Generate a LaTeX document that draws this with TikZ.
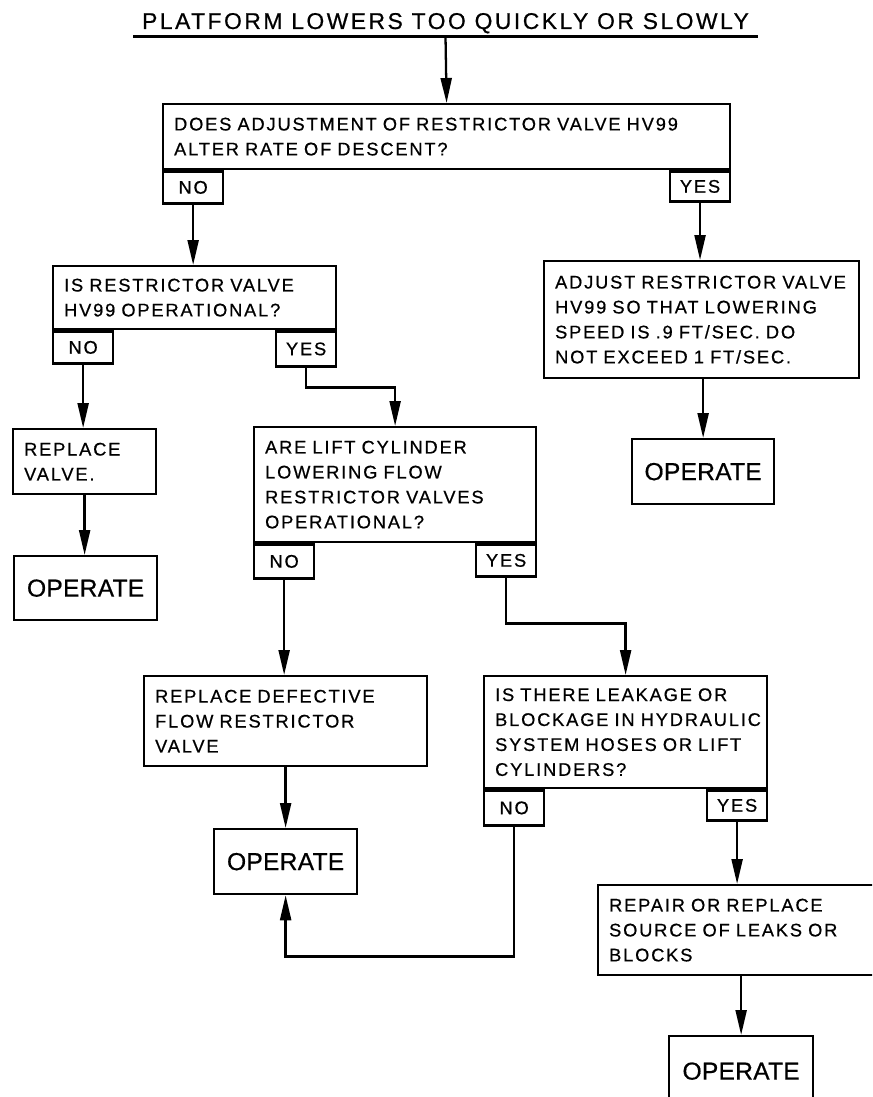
\documentclass[tikz,border=0pt]{standalone}
\usepackage{fontspec}
\usetikzlibrary{arrows.meta}
\newfontfamily\chartfont[LetterSpace=10,FakeBold=0.6]{Liberation Sans}
\newfontfamily\titlefont[LetterSpace=11,FakeBold=0.6]{Liberation Sans}
\newfontfamily\opfont[LetterSpace=1,FakeBold=0.6]{Liberation Sans}
\hyphenpenalty=10000
\exhyphenpenalty=10000
\tikzset{chart/.style={line width=1.3pt},
	textbox/.style={draw, anchor=north west, align=left, inner xsep=0.22cm, inner ysep=0pt,
		text width=#1, font=\chartfont\fontsize{10.4}{14.2}\selectfont},
	opbox/.style={draw, anchor=north west, minimum width=2.86cm, minimum height=1.3cm,
		font=\opfont\fontsize{14}{16}\selectfont},
	tab/.style={draw, inner sep=0pt, minimum width=1.2cm, minimum height=0.64cm,
		font=\chartfont\fontsize{10.4}{12}\selectfont},
	flow/.style={-{Triangle[length=0.5cm,width=0.22cm]}},
	heading/.style={anchor=base, inner xsep=0.16cm, inner ysep=0.12cm, text depth=0pt,
		font=\titlefont\fontsize{13}{15}\selectfont}}

\begin{document}
\begin{tikzpicture}[x=0.02cm,y=-0.02cm,chart]
		\useasboundingbox (0,0) rectangle (872,1097);
		\clip (0,0) rectangle (872,1097);
		
		\node[heading] (title) at (445.5,29) {PLATFORM LOWERS TOO QUICKLY OR SLOWLY};
		\draw[line width=1.7pt] (title.south west) -- (title.south east);
		
		% questions and actions
		\node[textbox=10.90cm, minimum height=1.3cm] (adjq) at (162,103)
			{DOES ADJUSTMENT OF RESTRICTOR VALVE HV99\\ALTER RATE OF DESCENT?};
		\node[textbox=5.22cm, minimum height=1.26cm] (hvq) at (52,265)
			{IS RESTRICTOR VALVE\\HV99 OPERATIONAL?};
		\node[textbox=5.86cm, minimum height=2.34cm] (adjust) at (543,260)
			{ADJUST RESTRICTOR VALVE\\HV99 SO THAT LOWERING\\SPEED IS .9 FT/SEC. DO\\NOT EXCEED 1 FT/SEC.};
		\node[opbox, minimum width=2.84cm] (opadjust) at (631,438) {OPERATE};
		\node[textbox=2.42cm, minimum height=1.3cm] (replace) at (12,428)
			{REPLACE\\VALVE.};
		\node[opbox, minimum height=1.28cm] (opreplace) at (13,555) {OPERATE};
		\node[textbox=5.20cm, minimum height=2.3cm] (flowq) at (253,426)
			{ARE LIFT CYLINDER\\LOWERING FLOW\\RESTRICTOR VALVES\\OPERATIONAL?};
		\node[textbox=5.22cm, minimum height=1.8cm] (flowfix) at (143,675)
			{REPLACE DEFECTIVE\\FLOW RESTRICTOR\\VALVE};
		\node[opbox] (opflow) at (213,828) {OPERATE};
		\node[textbox=5.22cm, minimum height=2.24cm] (leakq) at (483,675)
			{IS THERE LEAKAGE OR\\\mbox{BLOCKAGE IN HYDRAULIC}\\SYSTEM HOSES OR LIFT\\CYLINDERS?};
		\node[textbox=5.36cm, minimum height=1.8cm] (leakfix) at (597,884)
			{REPAIR OR REPLACE\\SOURCE OF LEAKS OR\\BLOCKS};
		\node[opbox, minimum width=2.88cm, minimum height=1.4cm] (opleak) at (668,1035) {OPERATE};
		
		% answer tabs
		\node[tab, anchor=north west] (adjqno) at (adjq.south west) {NO};
		\node[tab, anchor=north east, minimum height=0.6cm] (adjqyes) at (adjq.south east) {YES};
		\node[tab, anchor=north west] (hvqno) at (hvq.south west) {NO};
		\node[tab, anchor=north east, minimum height=0.7cm] (hvqyes) at (hvq.south east) {YES};
		\node[tab, anchor=north west, minimum height=0.68cm] (flowqno) at (flowq.south west) {NO};
		\node[tab, anchor=north east] (flowqyes) at (flowq.south east) {YES};
		\node[tab, anchor=north west, minimum height=0.7cm] (leakqno) at (leakq.south west) {NO};
		\node[tab, anchor=north east, minimum height=0.6cm] (leakqyes) at (leakq.south east) {YES};
		
		% connectors
		\draw[flow] (title.south) -- (adjq.north);
		\draw[flow] (adjqno.south) -- (adjqno.south |- hvq.north);
		\draw[flow] (adjqyes.south) -- (adjqyes.south |- adjust.north);
		\draw[flow] (opadjust.north |- adjust.south) -- (opadjust.north);
		\draw[flow] (hvqno.south) -- (hvqno.south |- replace.north);
		\draw[flow] (hvqyes.south) -- ++(0,20) -| (flowq.north);
		\draw[flow] (replace.south) -- (replace.south |- opreplace.north);
		\draw[flow] (flowqno.south) -- (flowqno.south |- flowfix.north);
		\draw[flow] (flowqyes.south) -- ++(0,46) -| (leakq.north);
		\draw[flow] (flowfix.south) -- (flowfix.south |- opflow.north);
		\draw[flow] (leakqno.south) -- ++(0,130) -| (opflow.south);
		\draw[flow] (leakqyes.south) -- (leakqyes.south |- leakfix.north);
		\draw[flow] (opleak.north |- leakfix.south) -- (opleak.north);
		\end{tikzpicture}
\end{document}
